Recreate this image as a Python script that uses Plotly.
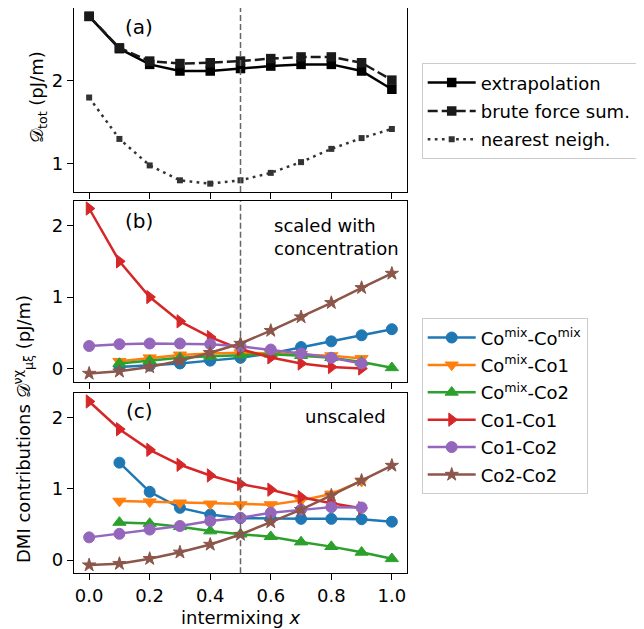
import plotly.graph_objects as go

# ---------------- data ----------------
x_all = [0.0, 0.1, 0.2, 0.3, 0.4, 0.5, 0.6, 0.7, 0.8, 0.9, 1.0]
x_mix = [0.1, 0.2, 0.3, 0.4, 0.5, 0.6, 0.7, 0.8, 0.9, 1.0]
x_mix1 = [0.1, 0.2, 0.3, 0.4, 0.5, 0.6, 0.7, 0.8, 0.9]
x_co1 = [0.0, 0.1, 0.2, 0.3, 0.4, 0.5, 0.6, 0.7, 0.8, 0.9]

# panel (a): total DMI
d_extrap = [2.78, 2.39, 2.20, 2.12, 2.12, 2.15, 2.18, 2.20, 2.20, 2.12, 1.90]
d_brute = [2.78, 2.40, 2.24, 2.21, 2.22, 2.24, 2.27, 2.29, 2.29, 2.22, 2.01]
d_nearest = [1.80, 1.30, 0.98, 0.80, 0.76, 0.80, 0.89, 1.02, 1.18, 1.31, 1.42]

# panel (b): scaled with concentration
b_mixmix = [0.02, 0.04, 0.07, 0.11, 0.15, 0.21, 0.30, 0.38, 0.465, 0.55]
b_mix1 = [0.10, 0.15, 0.19, 0.21, 0.22, 0.21, 0.20, 0.18, 0.14]
b_mix2 = [0.07, 0.11, 0.15, 0.17, 0.19, 0.20, 0.18, 0.15, 0.09, 0.01]
b_co1co1 = [2.24, 1.50, 1.00, 0.66, 0.44, 0.27, 0.155, 0.07, 0.02, 0.0]
b_co1co2 = [0.315, 0.34, 0.35, 0.35, 0.34, 0.31, 0.265, 0.21, 0.15, 0.07]
b_co2co2 = [-0.07, -0.04, 0.02, 0.11, 0.22, 0.35, 0.53, 0.72, 0.92, 1.13, 1.33]

# panel (c): unscaled
c_mixmix = [1.37, 0.96, 0.735, 0.64, 0.59, 0.58, 0.58, 0.58, 0.575, 0.54]
c_mix1 = [0.83, 0.82, 0.805, 0.79, 0.78, 0.78, 0.84, 0.93, 1.11]
c_mix2 = [0.53, 0.515, 0.47, 0.41, 0.365, 0.33, 0.255, 0.19, 0.11, 0.02]
c_co1co1 = [2.23, 1.84, 1.55, 1.34, 1.19, 1.07, 0.99, 0.885, 0.80, 0.73]
c_co1co2 = [0.32, 0.37, 0.43, 0.48, 0.55, 0.595, 0.665, 0.71, 0.745, 0.74]
c_co2co2 = [-0.07, -0.05, 0.02, 0.11, 0.22, 0.36, 0.535, 0.71, 0.91, 1.12, 1.33]

names_a = ["extrapolation", "brute force sum.", "nearest neigh."]
names_bc = ["Co<sup>mix</sup>-Co<sup>mix</sup>", "Co<sup>mix</sup>-Co1",
            "Co<sup>mix</sup>-Co2", "Co1-Co1", "Co1-Co2", "Co2-Co2"]
x_ticks = [0.0, 0.2, 0.4, 0.6, 0.8, 1.0]

# ---------------- styling ----------------
FONT = "DejaVu Sans"
FS = 18
W, H = 644, 629
OFF = 8  # page body margin in the browser


def px(x):
    return (x - OFF) / W


def py(y):
    return 1 - (y - OFF) / H


colors = ["#1f77b4", "#ff7f0e", "#2ca02c", "#d62728", "#9467bd", "#8c564b"]
symbols = ["circle", "triangle-down", "triangle-up", "triangle-right", "circle", "star"]
msizes = [11, 11.5, 11.5, 11.5, 11, 10]

fig = go.Figure()

# panel (a)
a_series = [d_extrap, d_brute, d_nearest]
a_dash = ["solid", "10px,4px", "2.7px,4.4px"]
a_col = ["#000000", "#1a1a1a", "#333333"]
a_ms = [9.5, 9.5, 6]
for i, (nm, ys) in enumerate(zip(names_a, a_series)):
    fig.add_trace(go.Scatter(
        x=x_all, y=ys, name=nm, mode="lines+markers",
        line=dict(color=a_col[i], width=2.5, dash=a_dash[i]),
        marker=dict(symbol="square", size=a_ms[i], color=a_col[i]),
        xaxis="x", yaxis="y", legend="legend", legendgroup="a%d" % i))

# panels (b) and (c)
bx = [x_mix, x_mix1, x_mix, x_co1, x_co1, x_all]
b_series = [b_mixmix, b_mix1, b_mix2, b_co1co1, b_co1co2, b_co2co2]
c_series = [c_mixmix, c_mix1, c_mix2, c_co1co1, c_co1co2, c_co2co2]
for panel, series, xa, ya, show in [("b", b_series, "x2", "y2", True),
                                    ("c", c_series, "x3", "y3", False)]:
    for i in range(6):
        fig.add_trace(go.Scatter(
            x=bx[i], y=series[i], name=names_bc[i], mode="lines+markers",
            line=dict(color=colors[i], width=2.5),
            marker=dict(symbol=symbols[i], size=msizes[i], color=colors[i],
                        line=dict(color=colors[i], width=1)),
            xaxis=xa, yaxis=ya, showlegend=show, legend="legend2",
            legendgroup="g%d" % i))

# ---------------- layout ----------------
xd = [px(74), px(407)]
doms = {"a": [py(192), py(8)],
        "b": [py(381.7), py(201)],
        "c": [py(573.3), py(393.3)]}

axis_common = dict(showline=True, linecolor="black", linewidth=1.3, mirror=True,
                   ticks="outside", ticklen=6, tickwidth=1.3, tickcolor="black",
                   showgrid=False, zeroline=False,
                   tickfont=dict(family=FONT, size=FS, color="black"))


def xaxis(show_labels, anchor):
    return dict(axis_common, domain=xd, range=[-0.05, 1.05], tickvals=x_ticks,
                tickformat=".1f", showticklabels=show_labels, anchor=anchor)


fig.update_layout(
    width=W, height=H, margin=dict(l=0, r=0, t=0, b=0),
    plot_bgcolor="white", paper_bgcolor="white",
    font=dict(family=FONT, size=FS, color="black"),
    xaxis=xaxis(False, "y"),
    xaxis2=xaxis(False, "y2"),
    xaxis3=xaxis(True, "y3"),
    yaxis=dict(axis_common, domain=doms["a"], range=[0.659, 2.881],
               tickvals=[1, 2], anchor="x"),
    yaxis2=dict(axis_common, domain=doms["b"], range=[-0.185, 2.345],
                tickvals=[0, 1, 2], anchor="x2"),
    yaxis3=dict(axis_common, domain=doms["c"], range=[-0.185, 2.345],
                tickvals=[0, 1, 2], anchor="x3"),
    legend=dict(x=px(421.7), y=py(63.3), xanchor="left", yanchor="top",
                bordercolor="#cccccc", borderwidth=1, bgcolor="white",
                font=dict(family=FONT, size=FS), itemwidth=48,
                entrywidth=170, entrywidthmode="pixels",
                traceorder="grouped", tracegroupgap=2),
    legend2=dict(x=px(421.7), y=py(318.3), xanchor="left", yanchor="top",
                 bordercolor="#cccccc", borderwidth=1, bgcolor="white",
                 font=dict(family=FONT, size=FS), itemwidth=48,
                 traceorder="grouped", tracegroupgap=1),
)

# vertical dashed line at x = 0.5 in each panel
for xr, yr in [("x", "y"), ("x2", "y2"), ("x3", "y3")]:
    fig.add_shape(type="line", xref=xr, yref=yr + " domain", x0=0.5, x1=0.5,
                  y0=0, y1=1, line=dict(color="#666666", width=1.5, dash="6px,3px"))


def ann(text, x, y, **kw):
    d = dict(text=text, x=px(x), y=py(y), xref="paper", yref="paper",
             xanchor="center", yanchor="middle",
             showarrow=False, font=dict(family=FONT, size=FS, color="black"))
    d.update(kw)
    fig.add_annotation(**d)


ann("(a)", 139, 27, font=dict(family=FONT, size=20, color="black"))
ann("(b)", 139, 221, font=dict(family=FONT, size=20, color="black"))
ann("(c)", 139, 411, font=dict(family=FONT, size=20, color="black"))
ann("scaled with<br>concentration", 272, 237, xanchor="left", align="left")
ann("unscaled", 388, 416, xanchor="right")
ann("intermixing <i>x</i>", 240.5, 617)
ann("𝒟<sub>tot</sub> (pJ/m)", 38, 97, textangle=-90)
ann("DMI contributions 𝒟<sup>νχ</sup><sub>μξ</sub> (pJ/m)", 23, 429, textangle=-90)

fig.write_html("out.html")
